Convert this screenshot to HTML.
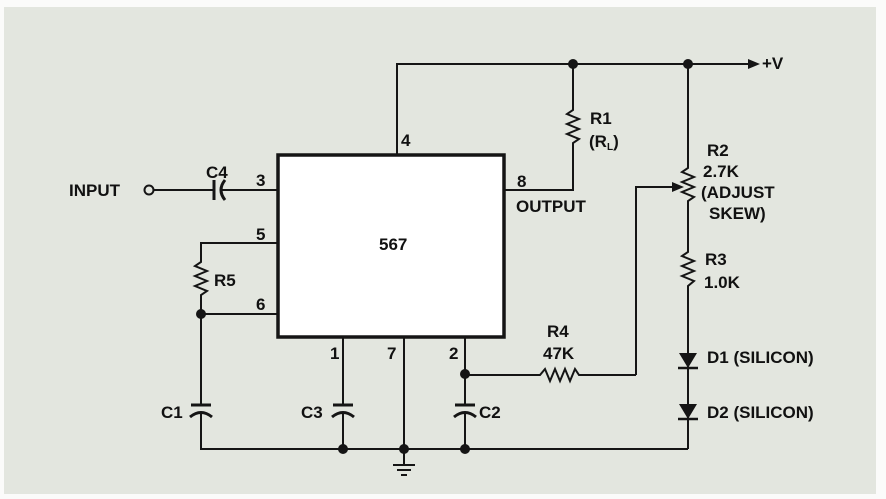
<!DOCTYPE html>
<html><head><meta charset="utf-8"><style>
html,body{margin:0;padding:0;background:#fff;}
svg{display:block;}
text{font-family:"Liberation Sans",Arial,sans-serif;font-weight:bold;fill:#111;font-size:17px;}
</style></head><body>
<svg width="886" height="499" viewBox="0 0 886 499" xmlns="http://www.w3.org/2000/svg">
<rect x="0" y="0" width="886" height="499" fill="#fbfbfa"/>
<rect x="4" y="7" width="872" height="487" fill="#e3e6df"/>
<g stroke="#151515" stroke-width="2" fill="none">
<rect x="278" y="155" width="226" height="182" fill="#fff" stroke-width="3.5"/>
<polyline points="397,155 397,64 750,64"/>
<polyline points="573,64 573,110 567,114 579,119 567,124 579,129 567,134 579,139 573,143 573,190 505,190"/>
<polyline points="688,64 688,168 682,172 694,177 682,182 694,187 682,192 694,197 688,201 688,252 682,256 694,261 682,266 694,271 682,276 694,281 688,286 688,449"/>
<polyline points="636,375 636,187 676,187"/>
<polyline points="465,375 540,375 545,369 550,381 555,369 560,381 565,369 570,381 575,369 579,375 636,375"/>
<line x1="154" y1="190" x2="214" y2="190"/>
<line x1="222" y1="190" x2="278" y2="190"/>
<polyline points="278,243 201,243 201,262 195,266 207,271 195,276 207,281 195,286 207,291 201,295 201,405"/>
<line x1="201" y1="314" x2="278" y2="314"/>
<polyline points="201,414 201,449 688,449"/>
<line x1="343" y1="337" x2="343" y2="405"/>
<line x1="343" y1="414" x2="343" y2="449"/>
<line x1="404" y1="337" x2="404" y2="465"/>
<line x1="465" y1="337" x2="465" y2="405"/>
<line x1="465" y1="414" x2="465" y2="449"/>
</g>
<g stroke="#151515" stroke-width="3" fill="none">
<line x1="214" y1="180" x2="214" y2="200"/>
<path d="M225,180 Q217,190 225,200"/>
<line x1="191" y1="405" x2="211" y2="405"/>
<path d="M190,417 Q201,408 212,417"/>
<line x1="333" y1="405" x2="353" y2="405"/>
<path d="M332,417 Q343,408 354,417"/>
<line x1="455" y1="405" x2="475" y2="405"/>
<path d="M454,417 Q465,408 476,417"/>
<line x1="393" y1="465" x2="415" y2="465" stroke-width="2"/>
<line x1="397" y1="470" x2="411" y2="470" stroke-width="2"/>
<line x1="401" y1="475" x2="407" y2="475" stroke-width="2"/>
<line x1="678" y1="368" x2="698" y2="368" stroke-width="2.5"/>
<line x1="678" y1="419" x2="698" y2="419" stroke-width="2.5"/>
</g>
<circle cx="149" cy="190" r="4.5" fill="none" stroke="#151515" stroke-width="2"/>
<g fill="#151515">
<polygon points="748,59 760,64 748,69"/>
<polygon points="672,182 684,187 672,192"/>
<polygon points="679,353 697,353 688,368"/>
<polygon points="679,404 697,404 688,419"/>
<circle cx="573" cy="64" r="5"/>
<circle cx="688" cy="64" r="5"/>
<circle cx="201" cy="314" r="5"/>
<circle cx="465" cy="374" r="5"/>
<circle cx="343" cy="449" r="5"/>
<circle cx="404" cy="449" r="5"/>
<circle cx="465" cy="449" r="5"/>
</g>
<text x="762" y="69">+V</text>
<text x="590" y="124">R1</text>
<text x="589" y="147" font-weight="normal">(R<tspan font-size="10" dy="3">L</tspan><tspan dy="-3">)</tspan></text>
<text x="517" y="187">8</text>
<text x="516" y="212">OUTPUT</text>
<text x="401" y="146">4</text>
<text x="206" y="178">C4</text>
<text x="69" y="196">INPUT</text>
<text x="256" y="186">3</text>
<text x="256" y="240">5</text>
<text x="256" y="310">6</text>
<text x="379" y="250">567</text>
<text x="214" y="286">R5</text>
<text x="161" y="418">C1</text>
<text x="301" y="418">C3</text>
<text x="479" y="418">C2</text>
<text x="330" y="359">1</text>
<text x="387" y="359">7</text>
<text x="449" y="359">2</text>
<text x="547" y="337">R4</text>
<text x="543" y="359">47K</text>
<text x="707" y="156">R2</text>
<text x="703" y="177">2.7K</text>
<text x="701" y="198">(ADJUST</text>
<text x="709" y="219">SKEW)</text>
<text x="705" y="265">R3</text>
<text x="704" y="288">1.0K</text>
<text x="707" y="363">D1 (SILICON)</text>
<text x="707" y="418">D2 (SILICON)</text>
</svg>
</body></html>
